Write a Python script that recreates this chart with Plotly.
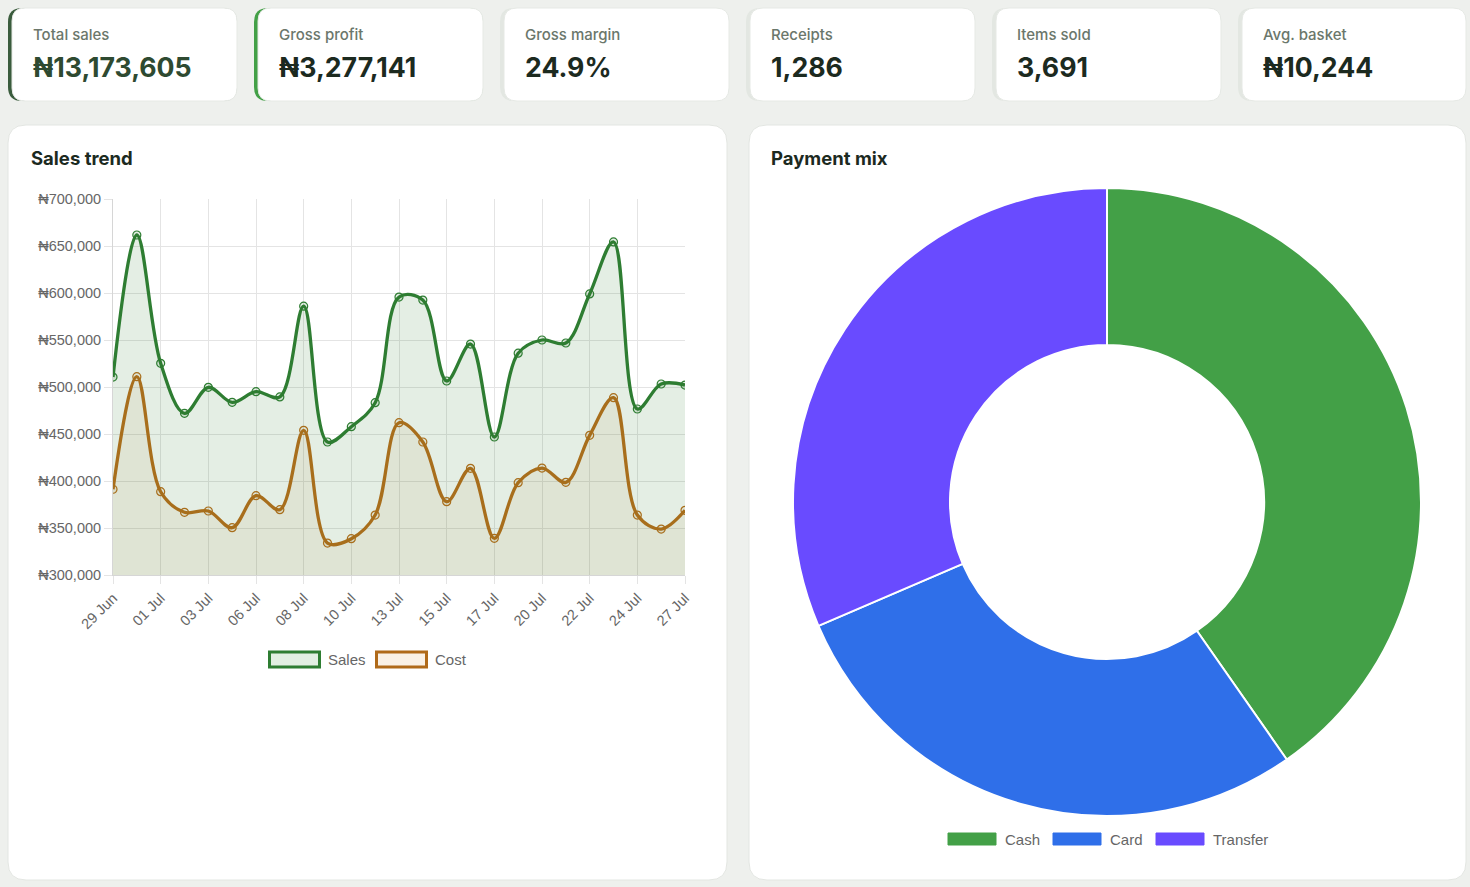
import plotly.graph_objects as go

W, H = 1470, 887

# ---------------- data ----------------
dates = ["29 Jun", "30 Jun", "01 Jul", "02 Jul", "03 Jul", "05 Jul", "06 Jul", "07 Jul",
         "08 Jul", "09 Jul", "10 Jul", "12 Jul", "13 Jul", "14 Jul", "15 Jul", "16 Jul",
         "17 Jul", "19 Jul", "20 Jul", "21 Jul", "22 Jul", "23 Jul", "24 Jul", "26 Jul", "27 Jul"]
tick_dates = ["29 Jun", "01 Jul", "03 Jul", "06 Jul", "08 Jul", "10 Jul", "13 Jul",
              "15 Jul", "17 Jul", "20 Jul", "22 Jul", "24 Jul", "27 Jul"]
sales = [510600, 661700, 525200, 472000, 499700, 483700, 495000, 489400, 586000, 441500,
         457800, 483300, 595700, 592500, 506400, 545700, 446800, 536000, 550000, 546800,
         599000, 654300, 476600, 503200, 502100]
cost = [391200, 511000, 388600, 366700, 368100, 350300, 384400, 369500, 453900, 334000,
        338600, 363800, 462000, 441500, 378000, 413500, 339000, 398200, 413800, 398600,
        448600, 488600, 363800, 348900, 368800]
series_names = ["Sales", "Cost"]

payment_methods = ["Cash", "Card", "Transfer"]
payment_values = [5309000, 3721500, 4143105]

kpi_labels = ["Total sales", "Gross profit", "Gross margin", "Receipts", "Items sold", "Avg. basket"]
kpi_values = ["₦13,173,605", "₦3,277,141", "24.9%", "1,286", "3,691", "₦10,244"]

# ---------------- styling ----------------
PAGE_BG = "#eef0ed"
SALES_C = "#2e7d32"
COST_C = "#a86e1c"
PAY_COLORS = ["#43a047", "#2f6fe9", "#694bff"]
TEXT_DARK = "#1c2a1f"
LABEL_C = "#6b776b"
TICK_C = "#666666"
GRID_C = "#e4e4e4"
CHART_FONT = "Liberation Sans, Arial, sans-serif"
UI_FONT = "Inter, Roboto, sans-serif"


def px(x):
    return x / W


def py(y):
    return 1 - y / H


def rrect(x0, y0, x1, y1, r):
    p = [
        f"M {px(x0 + r)} {py(y0)}",
        f"L {px(x1 - r)} {py(y0)}",
        f"Q {px(x1)} {py(y0)} {px(x1)} {py(y0 + r)}",
        f"L {px(x1)} {py(y1 - r)}",
        f"Q {px(x1)} {py(y1)} {px(x1 - r)} {py(y1)}",
        f"L {px(x0 + r)} {py(y1)}",
        f"Q {px(x0)} {py(y1)} {px(x0)} {py(y1 - r)}",
        f"L {px(x0)} {py(y0 + r)}",
        f"Q {px(x0)} {py(y0)} {px(x0 + r)} {py(y0)}",
        "Z",
    ]
    return " ".join(p)


shapes = []
annotations = []

# big panels
for (x0, x1) in [(8, 727), (749, 1466)]:
    shapes.append(dict(type="path", xref="paper", yref="paper", path=rrect(x0, 125, x1, 880, 18),
                       fillcolor="#ffffff", line=dict(color="#e3e6e2", width=1), layer="below"))

# KPI cards
card_x = [(8, 237), (254, 483), (500, 729), (746, 975), (992, 1221), (1238, 1466)]
strip_colors = ["#3a5c3d", "#43a047", "#e3e7e2", "#e3e7e2", "#e3e7e2", "#e3e7e2"]
for i, (x0, x1) in enumerate(card_x):
    shapes.append(dict(type="path", xref="paper", yref="paper", path=rrect(x0, 8, x1, 101, 14),
                       fillcolor=strip_colors[i], line=dict(width=0), layer="below"))
    shapes.append(dict(type="path", xref="paper", yref="paper", path=rrect(x0 + 4, 8, x1, 101, 13),
                       fillcolor="#ffffff", line=dict(color="#e6e9e5", width=1), layer="below"))
    annotations.append(dict(xref="paper", yref="paper", x=px(x0 + 23), y=py(35), text=kpi_labels[i],
                            showarrow=False, xanchor="left", yanchor="middle",
                            font=dict(family=UI_FONT, size=15, color=LABEL_C, weight=500)))
    annotations.append(dict(xref="paper", yref="paper", x=px(x0 + 23), y=py(67), text=kpi_values[i],
                            showarrow=False, xanchor="left", yanchor="middle",
                            font=dict(family=UI_FONT, size=26.7,
                                      color="#2e4a31" if i == 0 else TEXT_DARK, weight=700)))

# panel titles
for (x, t) in [(29, "Sales trend"), (769, "Payment mix")]:
    annotations.append(dict(xref="paper", yref="paper", x=px(x), y=py(158), text=t,
                            showarrow=False, xanchor="left", yanchor="middle",
                            font=dict(family=UI_FONT, size=18.5, color=TEXT_DARK, weight=700)))

# ---------------- traces ----------------
fig = go.Figure()

fig.add_trace(go.Scatter(
    x=dates, y=sales, name=series_names[0], mode="lines+markers",
    line=dict(color=SALES_C, width=3.3, shape="spline", smoothing=1.0),
    marker=dict(symbol="circle", size=8, color="rgba(46,125,50,0.13)",
                line=dict(color=SALES_C, width=1.2)),
    fill="tozeroy", fillcolor="rgba(46,125,50,0.13)",
    xaxis="x", yaxis="y", showlegend=False,
))
fig.add_trace(go.Scatter(
    x=dates, y=cost, name=series_names[1], mode="lines+markers",
    line=dict(color=COST_C, width=3.3, shape="spline", smoothing=1.0),
    marker=dict(symbol="circle", size=8, color="rgba(168,110,28,0.08)",
                line=dict(color=COST_C, width=1.2)),
    fill="tozeroy", fillcolor="rgba(168,110,28,0.08)",
    xaxis="x", yaxis="y", showlegend=False,
))

fig.add_trace(go.Pie(
    labels=payment_methods, values=payment_values, hole=0.5, sort=False,
    direction="clockwise", rotation=0, textinfo="none",
    marker=dict(colors=PAY_COLORS, line=dict(color="#ffffff", width=2)),
    domain=dict(x=[px(793), px(1421)], y=[py(816), py(188)]),
    showlegend=False, automargin=False,
))

# ---------------- manual legends ----------------
legend_boxes = [(268, 321, SALES_C, "#e2efe2"), (375, 428, "#b06a1a", "#faf1e6")]
for (x0, x1, lc, fc), name in zip(legend_boxes, series_names):
    shapes.append(dict(type="rect", xref="paper", yref="paper", x0=px(x0 + 1.5), x1=px(x1 - 1.5),
                       y0=py(667), y1=py(652), fillcolor=fc, line=dict(color=lc, width=3)))
    annotations.append(dict(xref="paper", yref="paper", x=px(x1 + 5), y=py(659), text=name,
                            showarrow=False, xanchor="left", yanchor="middle",
                            font=dict(family=CHART_FONT, size=15, color=TICK_C)))

pay_box_x = [948, 1053, 1156]
for x0, name, c in zip(pay_box_x, payment_methods, PAY_COLORS):
    shapes.append(dict(type="rect", xref="paper", yref="paper", x0=px(x0), x1=px(x0 + 48),
                       y0=py(845), y1=py(833), fillcolor=c, line=dict(color=c, width=1)))
    annotations.append(dict(xref="paper", yref="paper", x=px(x0 + 55), y=py(839), text=name,
                            showarrow=False, xanchor="left", yanchor="middle",
                            font=dict(family=CHART_FONT, size=15, color=TICK_C)))

fig.update_layout(
    width=W, height=H, autosize=False,
    margin=dict(l=0, r=0, t=0, b=0, pad=0, autoexpand=False),
    paper_bgcolor=PAGE_BG, plot_bgcolor="rgba(0,0,0,0)",
    shapes=shapes, annotations=annotations,
    xaxis=dict(
        domain=[px(113), px(685)], anchor="y", type="category",
        categoryorder="array", categoryarray=dates, automargin=False,
        range=[0, 24], tickmode="array", tickvals=tick_dates, ticktext=tick_dates,
        tickangle=-45, showgrid=True, gridcolor=GRID_C, gridwidth=1,
        ticks="outside", ticklen=8, tickcolor=GRID_C,
        showline=True, linecolor="#d6d6d6", linewidth=1,
        tickfont=dict(family=CHART_FONT, size=14.5, color=TICK_C),
        zeroline=False, fixedrange=True,
    ),
    yaxis=dict(
        domain=[py(575), py(199)], anchor="x", automargin=False,
        range=[300000, 700000], tickmode="linear", tick0=300000, dtick=50000,
        tickprefix="₦", tickformat=",d", separatethousands=True,
        showgrid=True, gridcolor=GRID_C, gridwidth=1,
        ticks="outside", ticklen=8, tickcolor=GRID_C,
        showline=True, linecolor="#d6d6d6", linewidth=1,
        tickfont=dict(family=CHART_FONT, size=14.5, color=TICK_C),
        zeroline=False, fixedrange=True,
    ),
    hovermode="closest",
)

fig.write_html("out.html")
